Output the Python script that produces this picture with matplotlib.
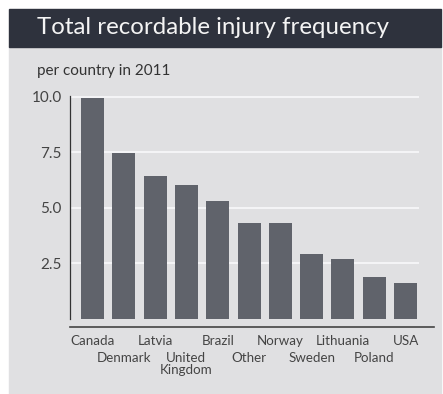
import matplotlib.pyplot as plt
from matplotlib.patches import Rectangle

countries = ['Canada', 'Denmark', 'Latvia', 'United\nKingdom', 'Brazil', 'Other',
             'Norway', 'Sweden', 'Lithuania', 'Poland', 'USA']
values = [9.95, 7.45, 6.42, 6.0, 5.3, 4.3, 4.3, 2.9, 2.68, 1.87, 1.6]
yticks = [2.5, 5.0, 7.5, 10.0]


def main():
    plt.rcParams['font.family'] = ['Lato', 'DejaVu Sans']
    fig = plt.figure(figsize=(4.43, 3.94), dpi=100)
    W, H = 443, 394

    # background panel and title bar
    fig.patches.append(Rectangle((9 / W, 0), 432 / W, 1 - 46 / H,
                                 transform=fig.transFigure, color='#e0e0e2', zorder=-5))
    fig.patches.append(Rectangle((9 / W, 1 - 46.5 / H), 432 / W, 37.5 / H,
                                 transform=fig.transFigure, color='#2e323d', zorder=-5))
    fig.text(37 / W, 1 - 28 / H, 'Total recordable injury frequency', color='#f4f4f4',
             fontsize=17.3, va='center', ha='left')
    fig.text(37 / W, 1 - 71 / H, 'per country in 2011', color='#333333',
             fontsize=11, va='center', ha='left')

    ax = fig.add_axes([70 / W, 1 - 327 / H, 364 / W, 231 / H])
    ax.patch.set_visible(False)
    x = range(len(values))
    ax.bar(x, values, width=0.735, color='#60636b', zorder=3)

    ax.set_xlim(-0.72, 10.91)
    ax.set_ylim(-0.38, 10.03)
    for t in yticks:
        ax.axhline(t, xmin=0, xmax=0.956, color='#f4f4f6', lw=1.5, zorder=1)

    ax.set_yticks(yticks)
    ax.set_yticklabels(['%.1f' % t for t in yticks], color='#444444', fontsize=11)
    ax.tick_params(axis='y', length=0, pad=6)
    ax.set_xticks([])

    for s in ['top', 'right']:
        ax.spines[s].set_visible(False)
    ax.spines['left'].set_bounds(0, 10.03)
    ax.spines['left'].set_color('#333333')
    ax.spines['left'].set_linewidth(0.9)
    ax.spines['bottom'].set_color('#444444')
    ax.spines['bottom'].set_linewidth(1.2)

    for i, name in enumerate(countries):
        y = -0.72 if i % 2 == 0 else -1.5
        ax.text(i, y, name, ha='center', va='top', fontsize=9.6, color='#444444',
                linespacing=1.05)

    fig.savefig('out.png', dpi=100)


if __name__ == "__main__":
    main()
